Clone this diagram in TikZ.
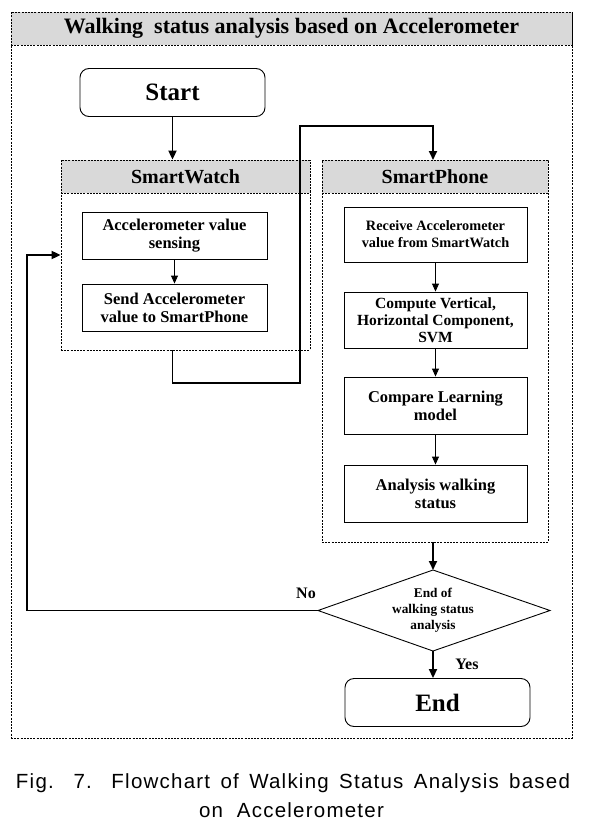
\documentclass[tikz,border=0pt]{standalone}
\usepackage{fontspec}
\setmainfont{Liberation Serif}
\newfontfamily\capfont[LetterSpace=6]{Liberation Sans}
\usetikzlibrary{shapes.geometric,arrows.meta}
\definecolor{hdr}{HTML}{D9D9D9}
\tikzset{
  frame/.style={draw, dash pattern=on 2pt off 1.2pt, line width=0.8pt, inner sep=0pt},
  hdrbox/.style={frame, fill=hdr, minimum height=33pt, font=\bfseries\fontsize{20}{22}\selectfont},
  procbox/.style={draw, line width=0.9pt, align=center, inner sep=1pt, font=\bfseries\fontsize{16.5}{18}\selectfont},
  term/.style={draw, line width=0.9pt, rounded corners=9pt, minimum width=185pt, minimum height=48pt, font=\bfseries\fontsize{25}{27}\selectfont},
  conn/.style={line width=1.8pt, -{Triangle[length=9pt,width=8pt]}},
  thinarrow/.style={line width=0.9pt, -{Triangle[length=8pt,width=7pt]}},
  lbl/.style={font=\bfseries\fontsize{16}{18}\selectfont, inner sep=0pt}
}
\begin{document}
\begin{tikzpicture}[x=1pt,y=-1pt]
\useasboundingbox (0,0) rectangle (592,832);
% outer frame
\node[frame, minimum width=561pt, minimum height=726pt] (outer) at (291.5,375) {};
\node[hdrbox, minimum width=561pt, font=\bfseries\fontsize{22}{24}\selectfont] (title) at (291.5,28.5) {Walking\ \ status analysis based on Accelerometer};
% start
\node[term] (start) at (172.5,92.5) {Start};
% SmartWatch group
\node[frame, minimum width=249pt, minimum height=190pt] (sw) at (185.5,255) {};
\node[hdrbox, minimum width=249pt] (swh) at (185.5,176.5) {SmartWatch};
\node[procbox, minimum width=185pt, minimum height=47pt] (sense) at (174.5,235.5) {Accelerometer value\\sensing};
\node[procbox, minimum width=185pt, minimum height=47pt] (send) at (174.5,307.5) {Send Accelerometer\\value to SmartPhone};
% SmartPhone group
\node[frame, minimum width=226pt, minimum height=382pt] (sp) at (435,351) {};
\node[hdrbox, minimum width=226pt] (sph) at (435,176.5) {SmartPhone};
\node[procbox, minimum width=183pt, minimum height=55pt, font=\bfseries\fontsize{14.3}{17}\selectfont] (recv) at (435.5,234.5) {Receive Accelerometer\\value from SmartWatch};
\node[procbox, minimum width=183pt, minimum height=56pt, font=\bfseries\fontsize{15.5}{17}\selectfont] (comp) at (435.5,320) {Compute Vertical,\\Horizontal Component,\\SVM};
\node[procbox, minimum width=183pt, minimum height=57pt] (cmpr) at (435.5,405.5) {Compare Learning\\model};
\node[procbox, minimum width=183pt, minimum height=57pt] (anal) at (435.5,493.5) {Analysis walking\\status};
% decision (diamond)
\coordinate (dtop) at (433,570);
\coordinate (dbot) at (433,651);
\coordinate (dleft) at (318,610.5);
\coordinate (dright) at (550,610.5);
\draw[line width=0.9pt] (dtop) -- (dright) -- (dbot) -- (dleft) -- cycle;
\node[align=center, inner sep=0pt, font=\bfseries\fontsize{13.3}{16}\selectfont] (dec) at (433,610.5) {End of\\walking status\\analysis};
\node[term] (endn) at (437.5,702.5) {End};
% connectors
\draw[conn] (start.south) -- (start.south |- sw.north);
\draw[thinarrow] (sense.south) -- (send.north);
\coordinate (swout) at (start.south |- sw.south);
\coordinate (b1) at (300,383);
\coordinate (b2) at (300,126);
\coordinate (spin) at (433,160);
\draw[conn] (swout) |- (b1) -- (b2) -| (spin);
\draw[thinarrow] (recv.south) -- (comp.north);
\draw[thinarrow] (comp.south) -- (cmpr.north);
\draw[thinarrow] (cmpr.south) -- (anal.north);
\coordinate (spout) at (dtop |- sp.south);
\draw[conn] (spout) -- (dtop);
\coordinate (nocorner) at (27,610.5);
\draw[conn] (dleft) -- (nocorner) |- (sw.west);
\draw[conn] (dbot) -- (dbot |- endn.north);
\node[lbl] (no) at (306,593) {No};
\node[lbl] (yes) at (467,664) {Yes};
% caption
\node[font=\capfont\fontsize{20.5}{22}\selectfont, inner sep=0pt] (cap1) at (293,783) {\makebox[554pt][s]{Fig. 7. Flowchart of Walking Status Analysis based}};
\node[font=\capfont\fontsize{20.5}{22}\selectfont, inner sep=0pt] (cap2) at (291.5,810) {on\ \ Accelerometer};
\end{tikzpicture}
\end{document}
